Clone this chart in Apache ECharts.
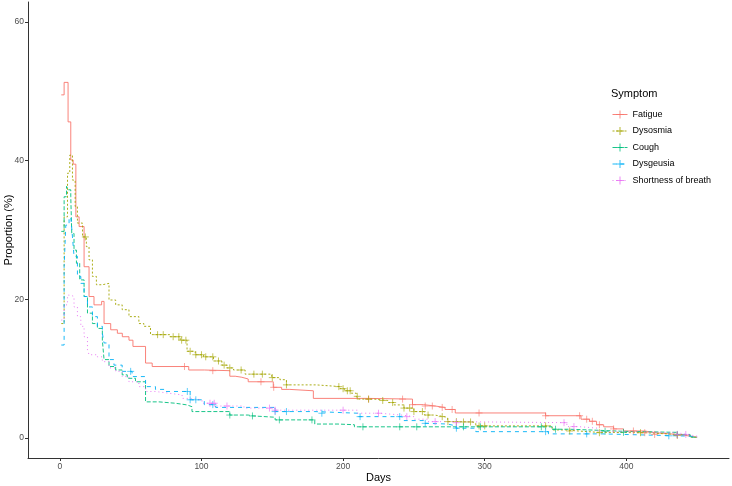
<!DOCTYPE html>
<html>
<head>
<meta charset="utf-8">
<script src="https://cdn.jsdelivr.net/npm/echarts@6/dist/echarts.min.js"></script>
<style>
  html, body { margin: 0; padding: 0; background: #fff; }
  #chart { width: 732px; height: 486px; }
</style>
</head>
<body>
<div id="chart"></div>
<script>
// 曲线数据 (day, proportion %)
const fatigueDays = [1, 3, 5.8, 7.7, 9.4, 11.3, 13.6, 17.1, 20.6, 24.1, 29.5, 31.2, 35.9, 40.6, 44.1, 48.8, 51.6, 60.5, 65.2, 91, 102, 120, 123.8, 128.5, 133, 150.7, 156.6, 162.4, 179, 217.5, 249, 256.8, 265, 272, 279.2, 343, 368, 374, 379, 384, 391, 398, 413, 420, 436, 441, 450];
const fatigueVals = [49.5, 51.3, 45.6, 40.1, 39.5, 31.9, 30.5, 24.7, 20.4, 19.2, 19.7, 16.5, 15.6, 15.1, 14.6, 14.1, 13.2, 10.8, 10.3, 9.8, 9.7, 8.9, 8.75, 8.5, 8.1, 7.3, 7.0, 6.8, 5.7, 5.6, 4.8, 4.6, 4.4, 4.1, 3.6, 3.2, 2.7, 2.4, 1.9, 1.6, 1.3, 1.0, 0.75, 0.5, 0.38, 0.1, 0];

const dysosmiaDays = [1, 3, 5.4, 7, 8.9, 10.8, 12.4, 16, 18.7, 20.6, 23, 25.8, 30, 34.7, 39.4, 44, 48.8, 55.8, 59.3, 64, 78, 85, 89.8, 95.6, 101.5, 108.5, 114.4, 118, 122.6, 130.8, 149.6, 155.4, 160, 181.2, 198, 201, 205.8, 209.3, 210.5, 222, 231.6, 236, 243, 250, 257.4, 264.4, 271.4, 273.8, 282, 291.4, 293.7, 347.6, 357, 366, 380, 413, 436, 445, 450];
const dysosmiaVals = [16.5, 31.9, 38.2, 40.8, 37.2, 33.4, 31, 29, 27.6, 25.7, 23.3, 22.1, 22.3, 19.9, 19.2, 18.5, 17.5, 16.5, 16.1, 14.9, 14.6, 14.1, 12.5, 12.0, 11.7, 11.1, 10.5, 10.1, 9.8, 9.2, 8.7, 8.4, 7.65, 7.4, 7.1, 6.8, 6.45, 6.0, 5.6, 5.4, 5.1, 4.76, 4.3, 3.8, 3.3, 3.07, 2.84, 2.35, 2.3, 2.1, 1.73, 1.15, 1.0, 0.8, 0.75, 0.5, 0.4, 0.1, 0];

const coughDays = [1, 3, 4.7, 6, 7.7, 8.4, 10, 11.7, 14, 17.1, 19.5, 23, 26.5, 30, 31.2, 34.7, 39.4, 44, 47.6, 53.4, 60.5, 70, 81.6, 89.8, 93.3, 120, 133, 136.6, 152, 180, 196.4, 208, 347.6, 360, 380, 398, 436, 445, 450];
const coughVals = [29.8, 34.8, 36.3, 35.8, 34.8, 29.5, 27.1, 25.2, 22.8, 20.4, 18, 16.5, 15.8, 14.1, 11.3, 10.3, 9.8, 9.1, 8.6, 8.1, 5.2, 5.0, 4.76, 4.5, 3.8, 3.3, 3.17, 2.98, 2.6, 2.0, 1.9, 1.6, 1.25, 1.1, 0.95, 0.8, 0.5, 0.1, 0];

const dysgeusiaDays = [1, 3, 4.2, 6.5, 7.7, 8.9, 10, 12.4, 14.8, 17.1, 19.5, 23, 26.5, 30, 31.2, 34.7, 38.2, 44, 51, 60.5, 67.5, 74.5, 92, 102, 110, 152, 180, 210.5, 241, 243, 257.4, 260, 273.8, 279.7, 293.7, 345, 382.8, 436, 445, 450];
const dysgeusiaVals = [13.4, 24.7, 30.7, 31.5, 31.9, 29.0, 26.2, 23.3, 22.3, 20.4, 18.9, 17.5, 16.1, 15.1, 13.7, 11.3, 10.5, 9.6, 8.85, 7.4, 7.0, 6.7, 5.5, 4.8, 4.4, 3.8, 3.56, 3.07, 2.84, 2.5, 2.1, 2.0, 1.73, 1.4, 0.9, 0.58, 0.3, 0.25, 0.1, 0];

const breathDays = [1, 3, 5.4, 7.7, 10, 12.4, 14.8, 17.1, 19.5, 20.6, 26.5, 30, 34.7, 39.4, 44, 48.8, 55.8, 60.5, 67.5, 76.9, 86.3, 91, 100.4, 110, 130, 152, 210, 226, 241, 250, 260, 272, 358, 366, 380, 398, 436, 443, 450];
const breathVals = [17, 19.2, 20.6, 20.4, 18.9, 17.5, 16.1, 14.6, 12.7, 12.0, 11.7, 11.0, 10.1, 9.6, 8.85, 8.1, 7.4, 6.7, 6.45, 6.2, 5.7, 5.5, 5.0, 4.6, 4.3, 4.0, 3.56, 3.3, 3.07, 2.7, 2.35, 2.2, 1.63, 1.4, 0.9, 0.75, 0.5, 0.25, 0];

// 删失点 (days)
const fatigueCensor = [88, 108, 142, 151, 218, 242, 249, 258, 263, 270, 277, 296, 343, 367, 372, 376, 381, 391, 405, 413, 420, 436];
const dysosmiaCensor = [18, 69, 73, 80, 84, 86, 89, 92, 96, 100, 103, 108, 112, 116, 120, 128, 137, 143, 150, 160, 197, 200, 203, 205, 210, 218, 228, 235, 243, 247, 250, 256, 260, 270, 274, 280, 285, 290, 296, 300, 343, 360, 381, 410, 436];
const coughCensor = [120, 136, 155, 178, 214, 240, 252, 285, 297, 340, 350, 385, 398, 436];
const dysgeusiaCensor = [50, 90, 92, 96, 108, 152, 160, 185, 212, 240, 258, 280, 343, 372, 430];
const breathCensor = [106, 109, 118, 148, 152, 200, 225, 245, 265, 280, 356, 363, 436, 442];

const symptomNames = ["Fatigue", "Dysosmia", "Cough", "Dysgeusia", "Shortness of breath"];
const xTicks = [0, 100, 200, 300, 400];
const yTicks = [0, 20, 40, 60];

const colors = ["#F8766D", "#A3A500", "#00BF7D", "#00B0F6", "#E76BF3"];
const dashes = ["solid", [2, 2], [4, 2], [4, 4], [1, 3]];
const crossPath = "path://M5,0V10M0,5H10";

const curves = [
  [fatigueDays, fatigueVals, fatigueCensor],
  [dysosmiaDays, dysosmiaVals, dysosmiaCensor],
  [coughDays, coughVals, coughCensor],
  [dysgeusiaDays, dysgeusiaVals, dysgeusiaCensor],
  [breathDays, breathVals, breathCensor],
];

// 取阶梯函数在某一天的值
function stepAt(days, vals, d) {
  let v = vals[0];
  for (let i = 0; i < days.length; i++) {
    if (days[i] <= d) v = vals[i];
  }
  return v;
}

const series = [];
curves.forEach(([days, vals, censor], i) => {
  series.push({
    name: symptomNames[i],
    type: "line",
    step: "end",
    data: days.map((d, k) => [d, vals[k]]),
    showSymbol: false,
    symbol: crossPath,
    symbolSize: 7,
    itemStyle: { color: "none", borderColor: colors[i], borderWidth: 0.8 },
    lineStyle: { color: colors[i], width: 1, type: dashes[i], opacity: 0.9 },
    silent: true,
    z: 2,
  });
  series.push({
    type: "scatter",
    data: censor.map((d) => [d, stepAt(days, vals, d)]),
    symbol: crossPath,
    symbolSize: 7,
    itemStyle: { color: "none", borderColor: colors[i], borderWidth: 0.8 },
    silent: true,
    z: 3,
  });
});

const chart = echarts.init(document.getElementById("chart"));
chart.setOption({
  animation: false,
  textStyle: { fontFamily: "Liberation Sans, Arial, sans-serif" },
  title: {
    text: "Symptom",
    left: 611,
    top: 88,
    padding: 0,
    textStyle: { fontSize: 11, fontWeight: "normal", color: "#000" },
  },
  legend: {
    data: symptomNames,
    orient: "vertical",
    left: 612,
    top: 108,
    padding: 0,
    itemWidth: 15,
    itemHeight: 10,
    itemGap: 3.5,
    lineStyle: { width: 1 },
    itemStyle: { borderWidth: 0.8 },
    textStyle: { fontSize: 9, color: "#000", lineHeight: 10 },
  },
  grid: { left: 28, right: 3, top: 2, bottom: 28, containLabel: false, outerBoundsMode: "none" },
  xAxis: {
    type: "value",
    min: -22.5,
    max: 472.5,
    name: "Days",
    nameLocation: "middle",
    nameGap: 14,
    nameMoveOverlap: false,
    nameTextStyle: { fontSize: 11, color: "#000" },
    axisLine: { onZero: false, lineStyle: { color: "#333", width: 1 } },
    axisTick: { customValues: xTicks, length: 3, lineStyle: { color: "#333" } },
    axisLabel: { customValues: xTicks, fontSize: 8.5, color: "#4d4d4d", margin: 4 },
    splitLine: { show: false },
  },
  yAxis: {
    type: "value",
    min: -2.9,
    max: 62.9,
    name: "Proportion (%)",
    nameLocation: "middle",
    nameGap: 14,
    nameMoveOverlap: false,
    nameTextStyle: { fontSize: 11, color: "#000" },
    axisLine: { show: true, onZero: false, lineStyle: { color: "#333", width: 1 } },
    axisTick: { show: true, customValues: yTicks, length: 3, lineStyle: { color: "#333" } },
    axisLabel: { customValues: yTicks, fontSize: 8.5, color: "#4d4d4d", margin: 4 },
    splitLine: { show: false },
  },
  series: series,
});
</script>
</body>
</html>
